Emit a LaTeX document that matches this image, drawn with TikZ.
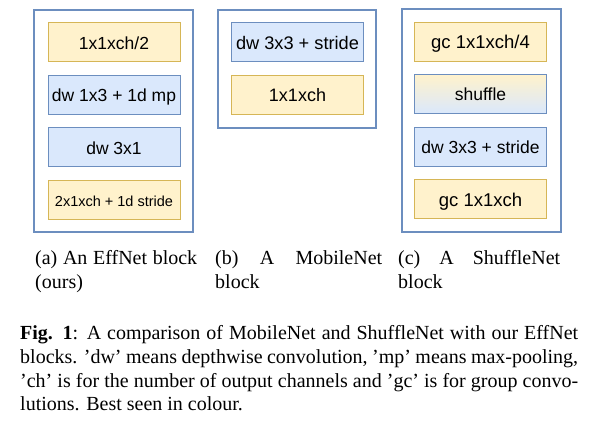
\documentclass[tikz,border=0pt]{standalone}
\usepackage{fontspec}
\setmainfont{Liberation Serif}
\newfontfamily\boxfont{Liberation Sans}
\definecolor{yfill}{HTML}{FFF2CC}
\definecolor{ystroke}{HTML}{D6B656}
\definecolor{bfill}{HTML}{DAE8FC}
\definecolor{bstroke}{HTML}{6C8EBF}
\tikzset{
  outerbox/.style={draw=bstroke, line width=1.8pt, fill=white, inner sep=0pt},
  layer/.style={line width=1pt, minimum width=132pt, minimum height=39pt, inner sep=0pt,
    text height=14pt, text depth=0pt, font=\boxfont\fontsize{17.5}{20}\selectfont},
  ylayer/.style={layer, draw=ystroke, fill=yfill},
  blayer/.style={layer, draw=bstroke, fill=bfill},
  glayer/.style={layer, draw=bstroke, top color=yfill, bottom color=bfill},
  subcap/.style={inner sep=0pt, anchor=base west, font=\fontsize{20}{23.6}\selectfont},
}
\begin{document}
\begin{tikzpicture}[x=1pt, y=-1pt]
\useasboundingbox (0,0) rectangle (614,427);
% outer frames
\node[outerbox, minimum width=159pt, minimum height=222pt] (A) at (113.5,121) {};
\node[outerbox, minimum width=158pt, minimum height=118pt] (B) at (297,69) {};
\node[outerbox, minimum width=159pt, minimum height=223pt] (C) at (481.5,120.5) {};
% (a) EffNet
\node[ylayer] (a1) at (114,42.5) {1x1xch/2};
\node[blayer] (a2) at (114,95) {dw 1x3 + 1d mp};
\node[blayer] (a3) at (114,147.5) {dw 3x1};
\node[ylayer, font=\boxfont\fontsize{14.5}{17}\selectfont, text height=12.5pt] (a4) at (114,200) {2x1xch + 1d stride};
% (b) MobileNet
\node[blayer, font=\boxfont\fontsize{18.2}{21}\selectfont] (b1) at (297.5,42.5) {dw 3x3 + stride};
\node[ylayer, font=\boxfont\fontsize{18}{21}\selectfont] (b2) at (297.5,95) {1x1xch};
% (c) ShuffleNet
\node[ylayer, font=\boxfont\fontsize{18.5}{21}\selectfont] (c1) at (480.5,42) {gc 1x1xch/4};
\node[glayer] (c2) at (480.5,94) {shuffle};
\node[blayer] (c3) at (480.5,147) {dw 3x3 + stride};
\node[ylayer, font=\boxfont\fontsize{18.5}{21}\selectfont] (c4) at (480.5,199.5) {gc 1x1xch};
% sub-captions
\node[subcap] (capa) at (35,265) {\begin{minipage}[t]{162pt}\parindent0pt\hbadness10000
(a) An EffNet block\linebreak (ours)\end{minipage}};
\node[subcap] (capb) at (215,265) {\begin{minipage}[t]{167pt}\parindent0pt\hbadness10000
(b) A MobileNet\linebreak block\end{minipage}};
\node[subcap] (capc) at (398,265) {\begin{minipage}[t]{162pt}\parindent0pt\hbadness10000
(c) A ShuffleNet\linebreak block\end{minipage}};
% main caption
\node[subcap] (cap) at (20,340) {\begin{minipage}[t]{558pt}\parindent0pt\hbadness10000
\textbf{Fig. 1}: A comparison of MobileNet and ShuffleNet with our EffNet\linebreak
blocks. 'dw' means depthwise convolution, 'mp' means max-pooling,\linebreak
'ch' is for the number of output channels and 'gc' is for group convo-\linebreak
lutions. Best seen in colour.\end{minipage}};
\end{tikzpicture}
\end{document}
